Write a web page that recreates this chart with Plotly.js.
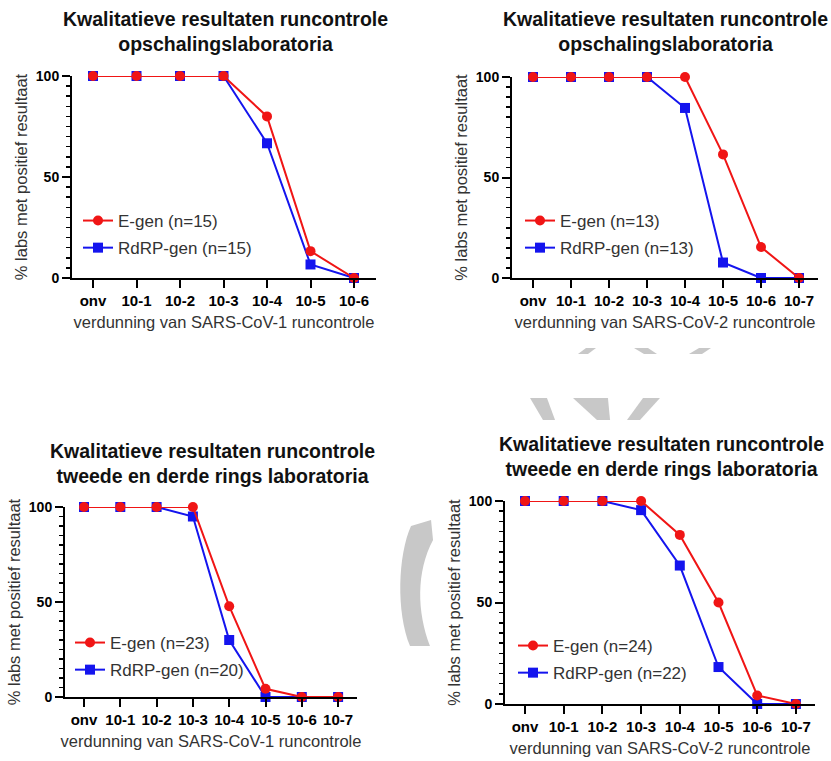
<!DOCTYPE html>
<html>
<head>
<meta charset="utf-8">
<script src="https://cdn.plot.ly/plotly-3.0.1.min.js"></script>
<style>html,body{margin:0;padding:0;background:#fff;}#chart{width:831px;height:761px;}</style>
</head>
<body>
<div id="chart"></div>
<script>
// ---- data ----
const cats7 = ['onv','10-1','10-2','10-3','10-4','10-5','10-6'];
const cats8 = ['onv','10-1','10-2','10-3','10-4','10-5','10-6','10-7'];

const egenOpsCov1 = [100,100,100,100,80,13.3,0];
const rdrpOpsCov1 = [100,100,100,100,66.7,6.7,0];

const egenOpsCov2 = [100,100,100,100,100,61.5,15.4,0];
const rdrpOpsCov2 = [100,100,100,100,84.6,7.7,0,0];

const egenRingCov1 = [100,100,100,100,47.8,4.3,0,0];
const rdrpRingCov1 = [100,100,100,95,30,0,0,0];

const egenRingCov2 = [100,100,100,100,83.3,50,4.2,0];
const rdrpRingCov2 = [100,100,100,95.5,68.2,18.2,0,0];

const egenNames = ['E-gen (n=15)','E-gen (n=13)','E-gen (n=23)','E-gen (n=24)'];
const rdrpNames = ['RdRP-gen (n=15)','RdRP-gen (n=13)','RdRP-gen (n=20)','RdRP-gen (n=22)'];

const titles = [
  'Kwalitatieve resultaten runcontrole<br>opschalingslaboratoria',
  'Kwalitatieve resultaten runcontrole<br>opschalingslaboratoria',
  'Kwalitatieve resultaten runcontrole<br>tweede en derde rings laboratoria',
  'Kwalitatieve resultaten runcontrole<br>tweede en derde rings laboratoria'
];
const xTitles = ['verdunning van SARS-CoV-1 runcontrole','verdunning van SARS-CoV-2 runcontrole',
                 'verdunning van SARS-CoV-1 runcontrole','verdunning van SARS-CoV-2 runcontrole'];
const yTitle = '% labs met positief resultaat';
const yTicks = [0,50,100];

// ---- layout helpers ----
const W = 831, H = 761;
const px = x => x / W;
const py = y => 1 - y / H;
const RED = '#f01515', BLUE = '#1414ee';
const FONT = 'Liberation Sans, Arial, sans-serif';

const panels = [
  {cats: cats7, e: egenOpsCov1, r: rdrpOpsCov1, dom: [72,376,76,278], onv: 93, step: 43.5, title: [225,31.5], leg: [118,220]},
  {cats: cats8, e: egenOpsCov2, r: rdrpOpsCov2, dom: [512,818,77,278], onv: 533, step: 38, title: [665,31.5], leg: [560,220]},
  {cats: cats8, e: egenRingCov1, r: rdrpRingCov1, dom: [65,357,507,697], onv: 84, step: 36.3, title: [212,463], leg: [110,642]},
  {cats: cats8, e: egenRingCov2, r: rdrpRingCov2, dom: [505,815,501,704], onv: 525, step: 38.7, title: [661,456.5], leg: [553,645]}
];

const traces = [];
const layout = {
  width: W, height: H,
  margin: {l: 0, r: 0, t: 0, b: 0},
  paper_bgcolor: '#fff', plot_bgcolor: 'rgba(0,0,0,0)',
  showlegend: true,
  font: {family: FONT, color: '#000'},
  annotations: [],
  shapes: []
};

panels.forEach((p, i) => {
  const n = i + 1;
  const xa = 'x' + (n === 1 ? '' : n), ya = 'y' + (n === 1 ? '' : n);
  const legName = 'legend' + (n === 1 ? '' : n);
  traces.push({
    type: 'scatter', mode: 'lines+markers', x: p.cats, y: p.r, name: rdrpNames[i],
    xaxis: xa, yaxis: ya, legend: legName, legendgroup: 'r' + n, legendrank: 2,
    line: {color: BLUE, width: 2}, marker: {symbol: 'square', size: 10, color: BLUE},
    cliponaxis: false
  });
  traces.push({
    type: 'scatter', mode: 'lines+markers', x: p.cats, y: p.e, name: egenNames[i],
    xaxis: xa, yaxis: ya, legend: legName, legendgroup: 'e' + n, legendrank: 1,
    line: {color: RED, width: 2}, marker: {symbol: 'circle', size: 10, color: RED},
    cliponaxis: false
  });
  const [x0, x1, yTop, yBot] = p.dom;
  const r0 = -(p.onv - x0) / p.step, r1 = (x1 - p.onv) / p.step;
  layout['xaxis' + (n === 1 ? '' : n)] = {
    domain: [px(x0), px(x1)], anchor: ya, type: 'category', categoryarray: p.cats,
    range: [r0, r1], showline: true, linecolor: '#000', linewidth: 2,
    ticks: 'outside', ticklen: 8, tickwidth: 2, tickcolor: '#000',
    showgrid: false, zeroline: false, fixedrange: true,
    tickfont: {family: FONT, size: 15, weight: 'bold', color: '#000'},
    title: {text: xTitles[i], font: {family: FONT, size: 16.5, color: '#333'}, standoff: 8}
  };
  layout['yaxis' + (n === 1 ? '' : n)] = {
    domain: [py(yBot), py(yTop)], anchor: xa, range: [0, 100],
    tickvals: yTicks, showline: true, linecolor: '#000', linewidth: 2,
    ticks: 'outside', ticklen: 8, tickwidth: 2, tickcolor: '#000',
    minor: {dtick: 5, ticks: 'outside', ticklen: 4, tickwidth: 1.5, tickcolor: '#000'},
    showgrid: false, zeroline: false, fixedrange: true,
    tickfont: {family: FONT, size: 14, weight: 'bold', color: '#000'},
    title: {text: yTitle, font: {family: FONT, size: 16.5, color: '#333'}, standoff: 4}
  };
  layout[legName] = {
    x: px(p.leg[0] - 40), y: py(p.leg[1] - 17), xanchor: 'left', yanchor: 'top',
    bgcolor: 'rgba(0,0,0,0)', borderwidth: 0, tracegroupgap: 2,
    font: {family: FONT, size: 17, color: '#333'}
  };
  layout.annotations.push({
    xref: 'paper', yref: 'paper', x: px(p.title[0]), y: py(p.title[1]),
    xanchor: 'center', yanchor: 'middle', showarrow: false, text: titles[i],
    font: {family: FONT, size: 19.5, weight: 'bold', color: '#111'}
  });
});

// ---- decorative watermark fragments (grey) ----
function pathFromPts(pts) {
  return 'M ' + pts.map(q => px(q[0]).toFixed(4) + ',' + py(q[1]).toFixed(4)).join(' L ') + ' Z';
}
const GREY = '#c8c8c8';
[
  [[578,354],[586,348],[596,348],[588,354]],
  [[634,348],[648,348],[657,354],[644,354]],
  [[699,348],[711,348],[702,354],[689,354]],
  [[530,398],[547,398],[555,420],[543,420]],
  [[573,398],[608,398],[610,420],[597,420]],
  [[643,398],[660,398],[640,420],[627,420]]
].forEach(pts => layout.shapes.push({type: 'path', xref: 'paper', yref: 'paper', path: pathFromPts(pts),
  fillcolor: GREY, line: {width: 0}, layer: 'below'}));
// arc fragment
(function(){
  const f = (x, y) => px(x).toFixed(4) + ',' + py(y).toFixed(4);
  const path = 'M ' + f(431,520) + ' L ' + f(411,526) +
    ' C ' + f(398,555) + ' ' + f(396,612) + ' ' + f(410,646) +
    ' L ' + f(430,646) +
    ' C ' + f(417,612) + ' ' + f(416,572) + ' ' + f(433,540) + ' Z';
  layout.shapes.push({type: 'path', xref: 'paper', yref: 'paper', path: path, fillcolor: GREY, line: {width: 0}, layer: 'below'});
})();

Plotly.newPlot('chart', traces, layout, {staticPlot: true, displayModeBar: false});
</script>
</body>
</html>
